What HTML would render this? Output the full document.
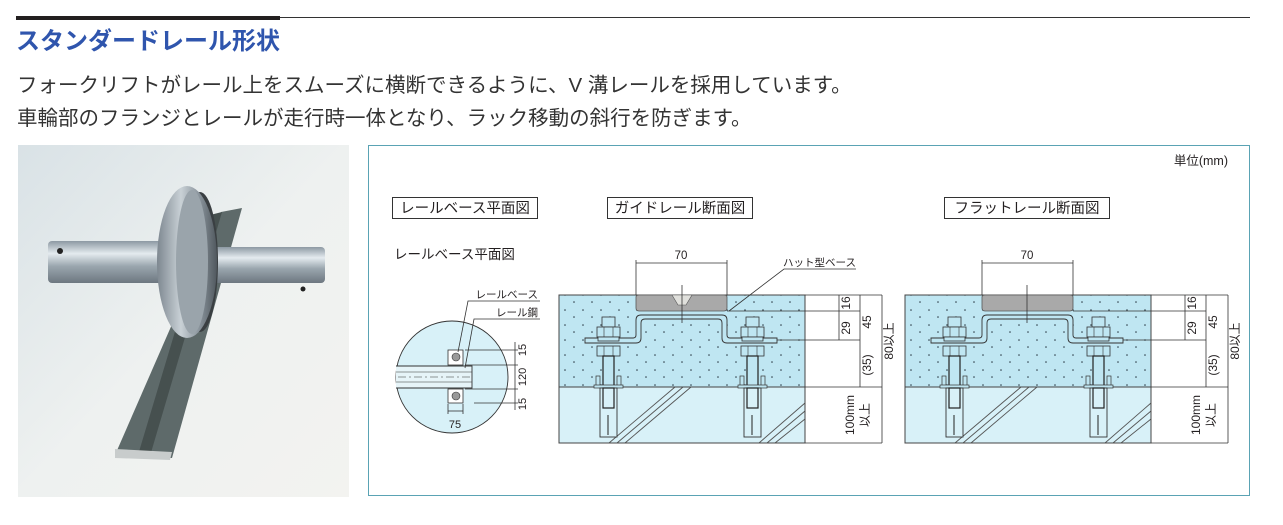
<!DOCTYPE html>
<html><head><meta charset="utf-8"><style>
html,body{margin:0;padding:0;background:#fff;}
svg{display:block;}
text{font-family:"Liberation Sans","Noto Sans CJK JP",sans-serif;fill:#231f20;}
</style></head><body>
<svg width="1283" height="525" viewBox="0 0 1283 525" xmlns="http://www.w3.org/2000/svg">
<defs>
<pattern id="dots" x="559" y="295" width="18" height="15" patternUnits="userSpaceOnUse">
<circle cx="5" cy="5" r="0.8" fill="#2a3a44"/>
<circle cx="14" cy="12" r="0.8" fill="#2a3a44"/>
</pattern>
<linearGradient id="bg" x1="0" y1="0" x2="1" y2="1">
<stop offset="0" stop-color="#d9e2e6"/><stop offset="0.5" stop-color="#eef1f0"/><stop offset="1" stop-color="#f3f3f0"/>
</linearGradient>
<linearGradient id="shaft" x1="0" y1="0" x2="0" y2="1">
<stop offset="0" stop-color="#8d99a3"/><stop offset="0.3" stop-color="#e4ebef"/><stop offset="0.6" stop-color="#9aa6ae"/><stop offset="1" stop-color="#6d7780"/>
</linearGradient>
<linearGradient id="wheel" x1="0" y1="0" x2="1" y2="0">
<stop offset="0" stop-color="#7d8790"/><stop offset="0.4" stop-color="#c9d1d6"/><stop offset="0.7" stop-color="#8a949c"/><stop offset="1" stop-color="#50585e"/>
</linearGradient>
<g id="bolt">
<rect x="-6" y="22" width="13" height="10" fill="#bfe6f2" stroke="#333" stroke-width="0.8"/>
<rect x="-11" y="32" width="23" height="10" fill="#bfe6f2" stroke="#333" stroke-width="0.8"/>
<line x1="-4" y1="32" x2="-4" y2="42" stroke="#333" stroke-width="0.6"/><line x1="5" y1="32" x2="5" y2="42" stroke="#333" stroke-width="0.6"/>
<rect x="-10" y="42" width="21" height="4" fill="#bfe6f2" stroke="#333" stroke-width="0.8"/>
<rect x="-11" y="51" width="23" height="10" fill="#bfe6f2" stroke="#333" stroke-width="0.8"/>
<line x1="-4" y1="51" x2="-4" y2="61" stroke="#333" stroke-width="0.6"/><line x1="5" y1="51" x2="5" y2="61" stroke="#333" stroke-width="0.6"/>
<rect x="-5" y="61" width="11" height="31" fill="#bfe6f2" stroke="#222" stroke-width="1.2"/>
<rect x="-12" y="81" width="4" height="10" fill="#bfe6f2" stroke="#333" stroke-width="0.7"/>
<rect x="9" y="81" width="4" height="10" fill="#bfe6f2" stroke="#333" stroke-width="0.7"/>
<rect x="-14" y="90" width="29" height="3" fill="#bfe6f2" stroke="#333" stroke-width="0.7"/>
<rect x="-8" y="93" width="17" height="49" fill="#d8f1f8" stroke="#333" stroke-width="0.9"/>
<rect x="-5" y="93" width="11" height="20" fill="none" stroke="#222" stroke-width="1.2"/>
<line x1="0" y1="120" x2="0" y2="140" stroke="#222" stroke-width="1"/>
</g>
<g id="sect">
<rect x="0" y="0" width="246" height="92" fill="#bfe6f2"/>
<rect x="0" y="0" width="246" height="92" fill="url(#dots)"/>
<rect x="0" y="92" width="246" height="56" fill="#d8f1f8"/>
<g stroke="#555" stroke-width="0.9">
<line x1="50" y1="148" x2="116" y2="92"/><line x1="58" y1="148" x2="124" y2="92"/><line x1="66" y1="148" x2="132" y2="92"/>
<line x1="200" y1="148" x2="246" y2="108"/><line x1="208" y1="148" x2="246" y2="116"/><line x1="216" y1="148" x2="246" y2="124"/>
</g>
<line x1="0" y1="92" x2="246" y2="92" stroke="#444" stroke-width="1"/>
<rect x="0" y="0" width="246" height="148" fill="none" stroke="#444" stroke-width="1"/>
<path d="M26 43 L74 43 Q77 43 77 40 L77 25 Q77 20 82 20 L163 20 Q168 20 168 25 L168 40 Q168 43 171 43 L218 43 L218 48 L168 48 Q163 48 163 43 L163 28 Q163 24 159 24 L86 24 Q82 24 82 28 L82 43 Q82 48 77 48 L26 48 Z" fill="#bfe6f2" stroke="#333" stroke-width="0.9"/>
<use href="#bolt" x="49" y="0"/>
<use href="#bolt" x="193" y="0"/>
<line x1="168" y1="16" x2="301" y2="16" stroke="#333" stroke-width="0.8"/>
<line x1="218" y1="45" x2="301" y2="45" stroke="#333" stroke-width="0.8"/>
<line x1="246" y1="0" x2="323" y2="0" stroke="#333" stroke-width="0.8"/>
<line x1="246" y1="92" x2="323" y2="92" stroke="#333" stroke-width="0.8"/>
<line x1="246" y1="148" x2="323" y2="148" stroke="#333" stroke-width="0.8"/>
<line x1="280" y1="0" x2="280" y2="45" stroke="#333" stroke-width="0.8"/>
<line x1="301" y1="0" x2="301" y2="92" stroke="#333" stroke-width="0.8"/>
<line x1="323" y1="0" x2="323" y2="148" stroke="#333" stroke-width="0.8"/>
<line x1="77" y1="-35" x2="77" y2="0" stroke="#333" stroke-width="0.8"/>
<line x1="168" y1="-35" x2="168" y2="0" stroke="#333" stroke-width="0.8"/>
<line x1="77" y1="-32" x2="168" y2="-32" stroke="#333" stroke-width="0.8"/>
<text x="122" y="-36" font-size="11.5" text-anchor="middle">70</text>
<g font-size="12">
<text transform="translate(291,8) rotate(-90)" text-anchor="middle">16</text>
<text transform="translate(291,33) rotate(-90)" text-anchor="middle">29</text>
<text transform="translate(312,27) rotate(-90)" text-anchor="middle">45</text>
<text transform="translate(312,70) rotate(-90)" text-anchor="middle">(35)</text>
<text transform="translate(334,46) rotate(-90)" text-anchor="middle">80以上</text>
<text transform="translate(295,120) rotate(-90)" text-anchor="middle">100mm</text>
<text transform="translate(310,120) rotate(-90)" text-anchor="middle">以上</text>
</g>
</g>
</defs>

<!-- header -->
<line x1="16" y1="17.5" x2="1250" y2="17.5" stroke="#333" stroke-width="1"/>
<rect x="16" y="16" width="264" height="4" fill="#231f20"/>
<text x="16" y="49" font-size="24" font-weight="bold" style="fill:#2f55ad">スタンダードレール形状</text>
<text x="17" y="92" font-size="20.5" style="fill:#333">フォークリフトがレール上をスムーズに横断できるように、V 溝レールを採用しています。</text>
<text x="17" y="125" font-size="20.5" style="fill:#333">車輪部のフランジとレールが走行時一体となり、ラック移動の斜行を防ぎます。</text>

<!-- photo -->
<rect x="18" y="145" width="331" height="352" fill="url(#bg)"/>
<polygon points="221,212 242,208 172,458 115,455" fill="#5e6a6a"/>
<polygon points="210,215 222,212 150,456 138,455" fill="#46504f"/>
<polygon points="115,449 172,452 170,460 115,458" fill="#c8cccc"/>
<rect x="48" y="241" width="120" height="42" rx="4" fill="url(#shaft)"/>
<rect x="210" y="247" width="115" height="36" rx="4" fill="url(#shaft)"/>
<ellipse cx="200" cy="262" rx="18" ry="70" fill="#3a3f42"/>
<ellipse cx="187" cy="262" rx="30" ry="76" fill="url(#wheel)"/>
<ellipse cx="192" cy="262" rx="16" ry="72" fill="#9aa4ab"/>
<circle cx="60" cy="251" r="3" fill="#222"/>
<circle cx="303" cy="289" r="2.5" fill="#222"/>

<!-- diagram box -->
<rect x="368.5" y="145.5" width="881" height="350" fill="#fff" stroke="#5aa3b4" stroke-width="1"/>
<text x="1228" y="165" font-size="12.5" text-anchor="end">単位(mm)</text>
<rect x="392.5" y="197.5" width="145" height="21" fill="#fff" stroke="#333"/>
<text x="465" y="213" font-size="14.5" text-anchor="middle">レールベース平面図</text>
<rect x="607.5" y="197.5" width="145" height="21" fill="#fff" stroke="#333"/>
<text x="680" y="213" font-size="14.5" text-anchor="middle">ガイドレール断面図</text>
<rect x="944.5" y="197.5" width="165" height="21" fill="#fff" stroke="#333"/>
<text x="1027" y="213" font-size="14.5" text-anchor="middle">フラットレール断面図</text>

<!-- plan view -->
<text x="394" y="259" font-size="13.5">レールベース平面図</text>
<circle cx="452" cy="377" r="56" fill="#d8f1f8" stroke="#333" stroke-width="0.9"/>
<path d="M396 366 L472 366 L472 388 L396 388" fill="#e6f4f8" stroke="#333" stroke-width="0.9"/>
<line x1="396" y1="372" x2="472" y2="372" stroke="#333" stroke-width="0.6"/>
<line x1="396" y1="382" x2="472" y2="382" stroke="#333" stroke-width="0.6"/>
<line x1="398" y1="377" x2="472" y2="377" stroke="#333" stroke-width="0.6" stroke-dasharray="8,3,2,3"/>
<rect x="448" y="350" width="15" height="15" fill="#fff" stroke="#333" stroke-width="0.8"/>
<circle cx="456" cy="357" r="4" fill="#999" stroke="#333" stroke-width="0.6"/>
<rect x="448" y="389" width="15" height="14" fill="#fff" stroke="#333" stroke-width="0.8"/>
<circle cx="456" cy="396" r="4" fill="#999" stroke="#333" stroke-width="0.6"/>
<g stroke="#333" stroke-width="0.8">
<line x1="465" y1="350" x2="518" y2="350"/><line x1="465" y1="365" x2="518" y2="365"/>
<line x1="465" y1="389" x2="518" y2="389"/><line x1="474" y1="403" x2="518" y2="403"/>
<line x1="515" y1="342" x2="515" y2="410"/>
<line x1="448" y1="404" x2="448" y2="414"/><line x1="463" y1="404" x2="463" y2="414"/>
<line x1="448" y1="411" x2="463" y2="411"/>
<polyline points="540,301 468,301 458,352" fill="none"/>
<polyline points="540,319 474,319 465,368" fill="none"/>
</g>
<text x="538" y="298" font-size="10.5" text-anchor="end">レールベース</text>
<text x="538" y="316" font-size="10.5" text-anchor="end">レール鋼</text>
<g font-size="11">
<text transform="translate(526,350) rotate(-90)" text-anchor="middle">15</text>
<text transform="translate(526,377) rotate(-90)" text-anchor="middle">120</text>
<text transform="translate(526,404) rotate(-90)" text-anchor="middle">15</text>
</g>
<text x="455" y="428" font-size="11" text-anchor="middle">75</text>

<!-- guide rail section -->
<g transform="translate(559,295)">
<use href="#sect"/>
<path d="M77 2 Q77 0 80 0 L165 0 Q168 0 168 2 L168 13 Q168 16 165 16 L80 16 Q77 16 77 13 Z" fill="#a9a9a9" stroke="#555" stroke-width="0.8"/>
<path d="M113 0 L119 10 L127 10 L133 0 Z" fill="#e0e0dc" stroke="#555" stroke-width="0.6"/>
<line x1="123" y1="-10" x2="123" y2="28" stroke="#333" stroke-width="0.8"/>
<polyline points="297,-26 225,-26 170,16" fill="none" stroke="#333" stroke-width="0.8"/>
<text x="297" y="-29" font-size="10.5" text-anchor="end">ハット型ベース</text>
</g>
<!-- flat rail section -->
<g transform="translate(905,295)">
<use href="#sect"/>
<path d="M77 2 Q77 0 80 0 L165 0 Q168 0 168 2 L168 13 Q168 16 165 16 L80 16 Q77 16 77 13 Z" fill="#a9a9a9" stroke="#555" stroke-width="0.8"/>
<line x1="122" y1="-10" x2="122" y2="28" stroke="#333" stroke-width="0.8"/>
</g>
</svg>
</body></html>
